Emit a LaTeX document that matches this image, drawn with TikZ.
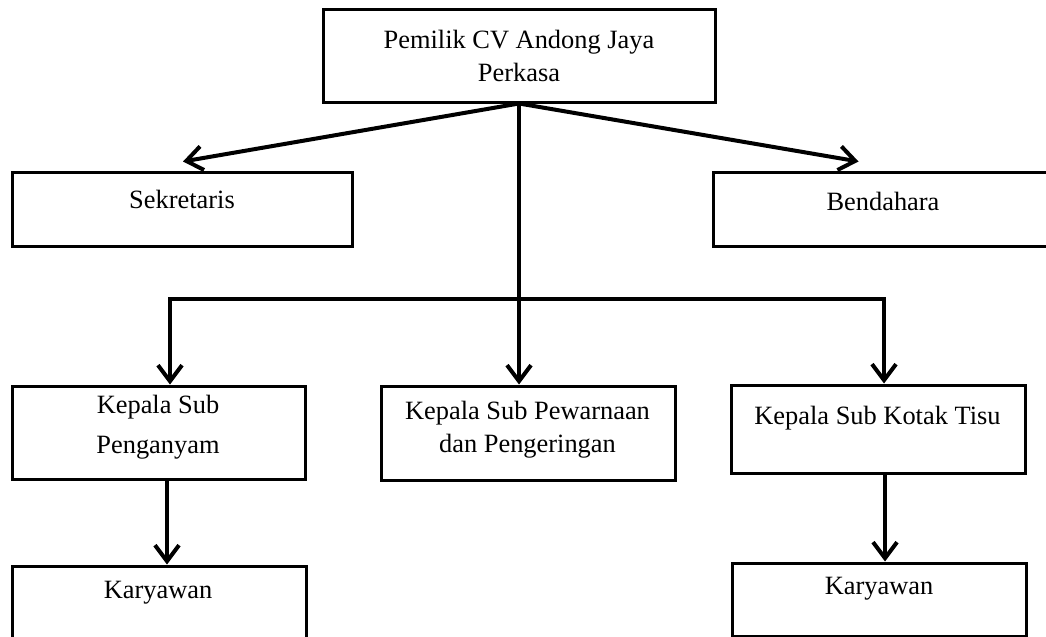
\documentclass[tikz,border=0pt]{standalone}
\usepackage{fontspec}
\setmainfont{Liberation Serif}
\usetikzlibrary{arrows.meta,calc}

\begin{document}
\begin{tikzpicture}[x=0.5pt, y=-0.5pt, >={Straight Barb[length=8pt,width=12pt]},
    box/.style={draw, line width=1.5pt, inner sep=0pt},
    txt/.style={align=center, font=\fontsize{13.2}{16.5}\selectfont},
    arr/.style={->, line width=2pt}]
        \useasboundingbox (0,0) rectangle (1046,637);
        % boxes
        \node[box, minimum width=196pt, minimum height=46.5pt] (owner) at (519,55.5) {};
        \node[box, minimum width=170pt, minimum height=37pt] (sek) at (182,209) {};
        \node[box, minimum width=169.5pt, minimum height=37pt] (ben) at (882.5,209) {}; % cut at the right edge
        \node[box, minimum width=146.5pt, minimum height=46.5pt] (ken) at (158.5,432.5) {};
        \node[box, minimum width=147pt, minimum height=47pt] (pew) at (528,433) {};
        \node[box, minimum width=147pt, minimum height=44pt] (kot) at (878,429) {};
        \node[box, minimum width=147pt, minimum height=47pt] (karL) at (159,613) {}; % cut at the bottom
        \node[box, minimum width=147pt, minimum height=36.5pt] (karR) at (879,599.5) {};
        % texts
        \node[txt] (ownerT) at (519,55.5) {Pemilik CV Andong Jaya\\Perkasa};
        \node[txt] (sekT) at (182,199) {Sekretaris};
        \node[txt] (benT) at (883,201) {Bendahara};
        \node[txt] (kenT) at (158,427) {Kepala Sub\\[3.5pt]Penganyam};
        \node[txt] (pewT) at (527.5,430) {Kepala Sub Pewarnaan\\dan Pengeringan};
        \node[txt] (kotT) at (877.5,418) {Kepala Sub Kotak Tisu};
        \node[txt] (karLT) at (158,593) {Karyawan};
        \node[txt] (karRT) at (879,589) {Karyawan};
        % arrows
        \coordinate (busL) at (170,299);
        \coordinate (busR) at (884,299);
        \draw[arr] (owner.south) -- ($(sek.north)+(1,-9)$);
        \draw[arr] (owner.south) -- ($(ben.north)+(-24,-9)$);
        \draw[arr] (owner.south) -- (owner.south |- pew.north);
        \draw[arr, <->] (busL |- ken.north) -- (busL) -- (busR) -- (busR |- kot.north);
        \draw[arr] ([xshift=4.25pt]ken.south) -- ([xshift=4.25pt]ken.south |- karL.north);
        \draw[arr] ([xshift=3.5pt]kot.south) -- ([xshift=3.5pt]kot.south |- karR.north);
    \end{tikzpicture}
\end{document}
